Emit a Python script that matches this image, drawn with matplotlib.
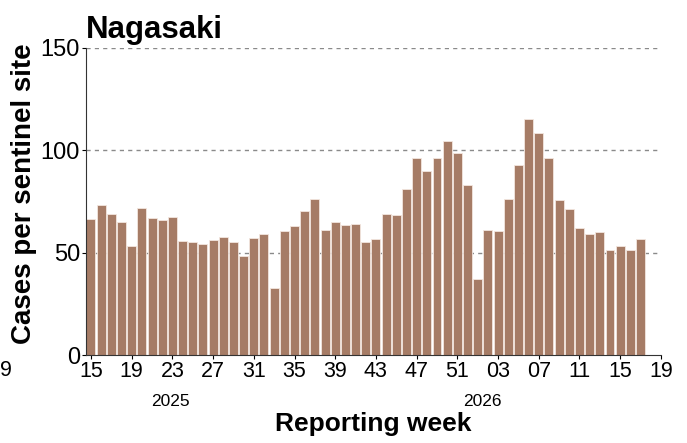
import matplotlib
matplotlib.use("Agg")
import matplotlib.pyplot as plt

plt.rcParams['font.family'] = ['Liberation Sans', 'DejaVu Sans']

# weekly cases per sentinel site, 2025-W15 .. 2026-W17
weeks_2025 = list(range(15, 53))
weeks_2026 = list(range(1, 18))
cases = [66.2, 73.5, 69.1, 64.8, 53.4, 71.6, 66.9, 66.0, 67.2, 55.6,
         55.1, 54.3, 56.0, 57.5, 55.2, 48.2, 56.9, 59.0, 32.9, 60.7,
         62.9, 70.3, 76.0, 61.0, 65.0, 63.4, 64.2, 55.1, 56.6, 68.7,
         68.3, 81.3, 96.3, 89.8, 96.1, 104.6, 98.7, 83.1, 37.1, 61.0,
         60.7, 76.1, 92.9, 115.2, 108.3, 96.3, 75.6, 71.4, 62.1, 58.9,
         60.2, 51.1, 53.4, 51.2, 56.6]

week_labels = ["%02d" % w for w in weeks_2025] + ["%02d" % w for w in weeks_2026 + [18, 19]]
years = ["2025", "2026"]
year_pos = [7.8, 38.5]

bar_color = "#a67c66"

fig = plt.figure(figsize=(6.87, 4.43), dpi=100)
ax = fig.add_axes([0.1247, 0.1986, 0.8373, 0.6934])

x = list(range(len(cases)))
ax.bar(x, cases, width=0.88, color=bar_color, edgecolor="#f3e6df", linewidth=0.6, zorder=2)

ax.set_xlim(-0.52, 56.0)
ax.set_ylim(0, 150)
ticks = list(range(0, 57, 4))
ax.set_xticks(ticks)
ax.set_xticklabels([week_labels[t] for t in ticks], fontsize=15.5)
ax.set_yticks([0, 50, 100, 150])
ax.tick_params(axis="y", labelsize=17, length=3, pad=1)
ax.tick_params(axis="x", length=3, pad=1)

for v in [50, 100, 150]:
    ax.axhline(v, color="#8a8a8a", linestyle=(0, (3, 3)), linewidth=1.0, zorder=1)

for s in ["top", "right"]:
    ax.spines[s].set_visible(False)
ax.spines["left"].set_color("#333333")
ax.spines["bottom"].set_color("#333333")

for y, p in zip(years, year_pos):
    ax.text(p, -0.152, y, transform=ax.get_xaxis_transform(), ha="center", va="center", fontsize=12.5)

ax.set_xlabel("Reporting week", fontsize=19, fontweight="bold", labelpad=22)
ax.set_ylabel("Cases per sentinel site", fontsize=20, fontweight="bold")
ax.yaxis.set_label_coords(-0.085, 0.525)
ax.set_title("Nagasaki", loc="left", fontsize=22.5, fontweight="bold", pad=7)

# label left over from the neighbouring panel
fig.text(0.0, 1 - 371 / 443, "9", ha="left", va="center", fontsize=15.5)

fig.savefig("out.png", dpi=100)
